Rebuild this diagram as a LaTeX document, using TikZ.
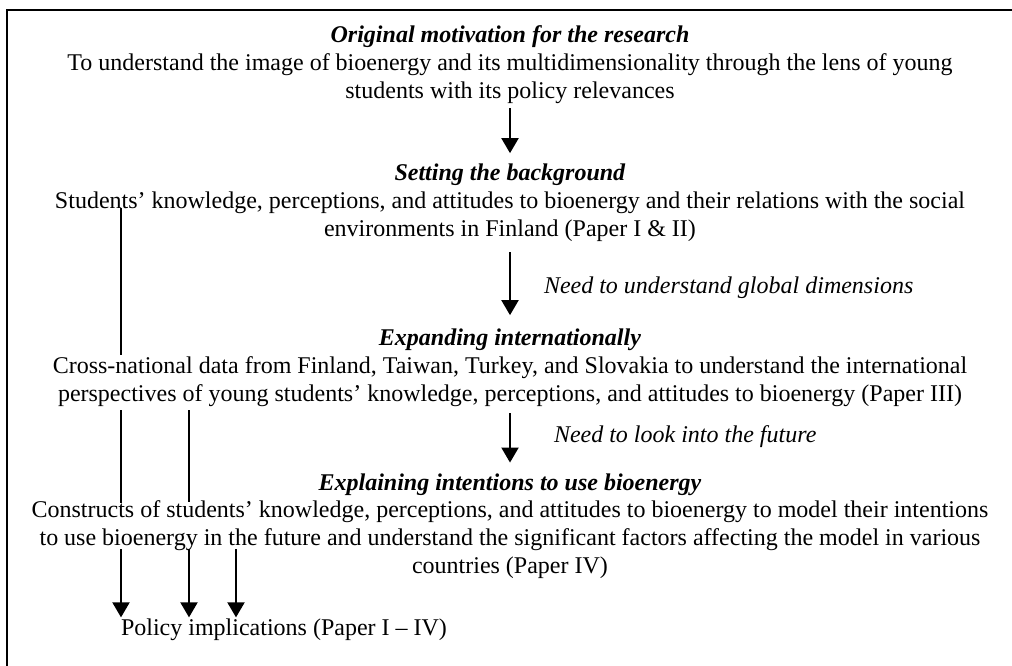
\documentclass[tikz,border=0pt]{standalone}
\usepackage{fontspec}
\setmainfont{Liberation Serif}
\usetikzlibrary{arrows.meta}

\begin{document}
\begin{tikzpicture}[x=0.5pt, y=-0.5pt, >={Triangle[length=7.5pt,width=8.5pt]}, line width=1pt,
  font=\fontsize{12pt}{13.8pt}\selectfont,
  block/.style={align=center, inner xsep=0pt, inner ysep=5pt, anchor=base},
  note/.style={font=\fontsize{12pt}{13.8pt}\selectfont\itshape, inner sep=0pt, anchor=base west}]
  \useasboundingbox (0,0) rectangle (1012,665);
  % frame
  \draw (7,700) -- (7,10) -- (1030,10);
  % stages (anchored at the baseline of their last line)
  \node[block] (motiv) at (510,98) {\textbf{\textit{Original motivation for the research}}\\
    To understand the image of bioenergy and its multidimensionality through the lens of young\\
    students with its policy relevances};
  \node[block] (backgr) at (510,236) {\textbf{\textit{Setting the background}}\\
    Students' knowledge, perceptions, and attitudes to bioenergy and their relations with the social\\
    environments in Finland (Paper I \& II)};
  \node[block] (intl) at (510,401) {\textbf{\textit{Expanding internationally}}\\
    Cross-national data from Finland, Taiwan, Turkey, and Slovakia to understand the international\\
    perspectives of young students' knowledge, perceptions, and attitudes to bioenergy (Paper III)};
  \node[block] (intent) at (510,573) {\textbf{\textit{Explaining intentions to use bioenergy}}\\
    Constructs of students' knowledge, perceptions, and attitudes to bioenergy to model their intentions\\
    to use bioenergy in the future and understand the significant factors affecting the model in various\\
    countries (Paper IV)};
  \node[anchor=base west, inner xsep=0pt, inner ysep=0pt] (policy) at (120,635) {Policy implications (Paper I -- IV)};
  % main flow
  \draw[->, shorten <=-3pt] (motiv.south) -- (backgr.north);
  \draw[->, shorten >=1.5pt] (backgr.south) -- (intl.north);
  \draw[->, shorten <=-2pt] (intl.south) -- (intent.north);
  \node[note] (global) at (543,293) {Need to understand global dimensions};
  \node[note] (future) at (553,442) {Need to look into the future};
  % side links to policy
  \coordinate (a1) at (121,208);
  \coordinate (a2) at (121,355);
  \coordinate (a3) at (121,410);
  \coordinate (a4) at (121,503);
  \coordinate (a5) at (121,549);
  \coordinate (b3) at (189,410);
  \coordinate (b4) at (189,502);
  \coordinate (b5) at (189,549);
  \coordinate (c5) at (236,549);
  \draw (a1) -- (a2);
  \draw (a3) -- (a4);
  \draw (b3) -- (b4);
  \draw[->] (a5) -- (policy.north -| a5);
  \draw[->] (b5) -- (policy.north -| b5);
  \draw[->] (c5) -- (policy.north -| c5);
\end{tikzpicture}
\end{document}
